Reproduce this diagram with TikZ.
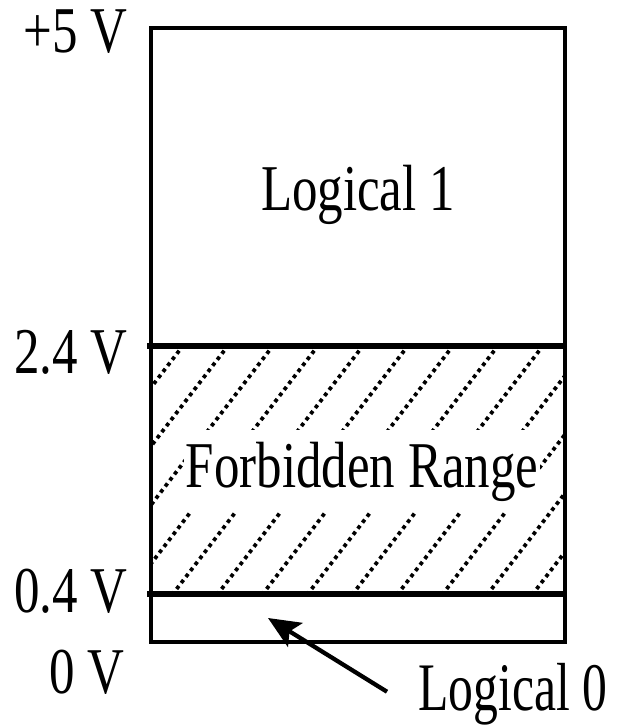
\documentclass[tikz,border=0pt]{standalone}
\usepackage{fontspec}
\usepackage{tikz}
\usetikzlibrary{arrows.meta, positioning, calc}
\newfontfamily\voltfont{Liberation Serif}[FakeStretch=0.78]
\newfontfamily\zerofont{Liberation Serif}[FakeStretch=0.73]
\definecolor{inkblack}{RGB}{0, 0, 0}
\tikzset{
  voltlabel/.style={font=\voltfont\fontsize{49}{52}\selectfont, inner sep=0pt,
              anchor=base east, text=inkblack},
  zonelabel/.style={font=\voltfont\fontsize{49}{52}\selectfont, inner sep=0pt,
              anchor=base, text=inkblack},
  zerolabel/.style={font=\zerofont\fontsize{51}{54}\selectfont, inner sep=0pt,
              anchor=base west, text=inkblack},
  boxline/.style={line width=3.4pt, draw=inkblack},
  levelline/.style={line width=3.8pt, draw=inkblack},
  hatchline/.style={line width=2.8pt, draw=inkblack, dash pattern=on 2.8pt off 2.9pt},
  arrow/.style={-{Stealth[length=24pt, width=21pt, inset=5pt]}, line width=3.2pt, color=inkblack},
}

\begin{document}
\begin{tikzpicture}[x=0.75pt, y=-0.75pt]
  \useasboundingbox (0,0) rectangle (622,725);

  % corners of the voltage bar
  \coordinate (top-left) at (151,28);
  \coordinate (bottom-right) at (565,642);
  \coordinate (high-left) at (147,346);
  \coordinate (high-right) at (565,346);
  \coordinate (low-left) at (147,594);
  \coordinate (low-right) at (565,594);

  % hatching of the forbidden band
  \begin{scope}
    \clip (151,346) rectangle (565,594);
    \foreach \k in {-5,...,9}
      \draw[hatchline] ({172+45*\k},595) -- ++(190,-248);
  \end{scope}

  \draw[boxline] (top-left) rectangle (bottom-right);
  \draw[levelline] (high-left) -- (high-right);
  \draw[levelline] (low-left) -- (low-right);

  \node[zonelabel] (logic1) at (358,210) {Logical 1};
  \node[zonelabel, fill=white, inner xsep=1.5pt, inner ysep=8.5pt] (forbidden) at (362,487)
        {Forbidden Range};

  \node[voltlabel] (v5) at (128,52) {+5 V};
  \node[voltlabel] (v24) at (128,373) {2.4 V};
  \node[voltlabel] (v04) at (128,612) {0.4 V};
  \node[voltlabel] (v0) at (125,693) {0 V};

  \node[zerolabel] (logic0) at (418,710) {Logical 0};
  \coordinate (zero-band) at (268,618);
  \draw[arrow] ($(logic0.west)+(-31,-2)$) -- (zero-band);
\end{tikzpicture}
\end{document}
